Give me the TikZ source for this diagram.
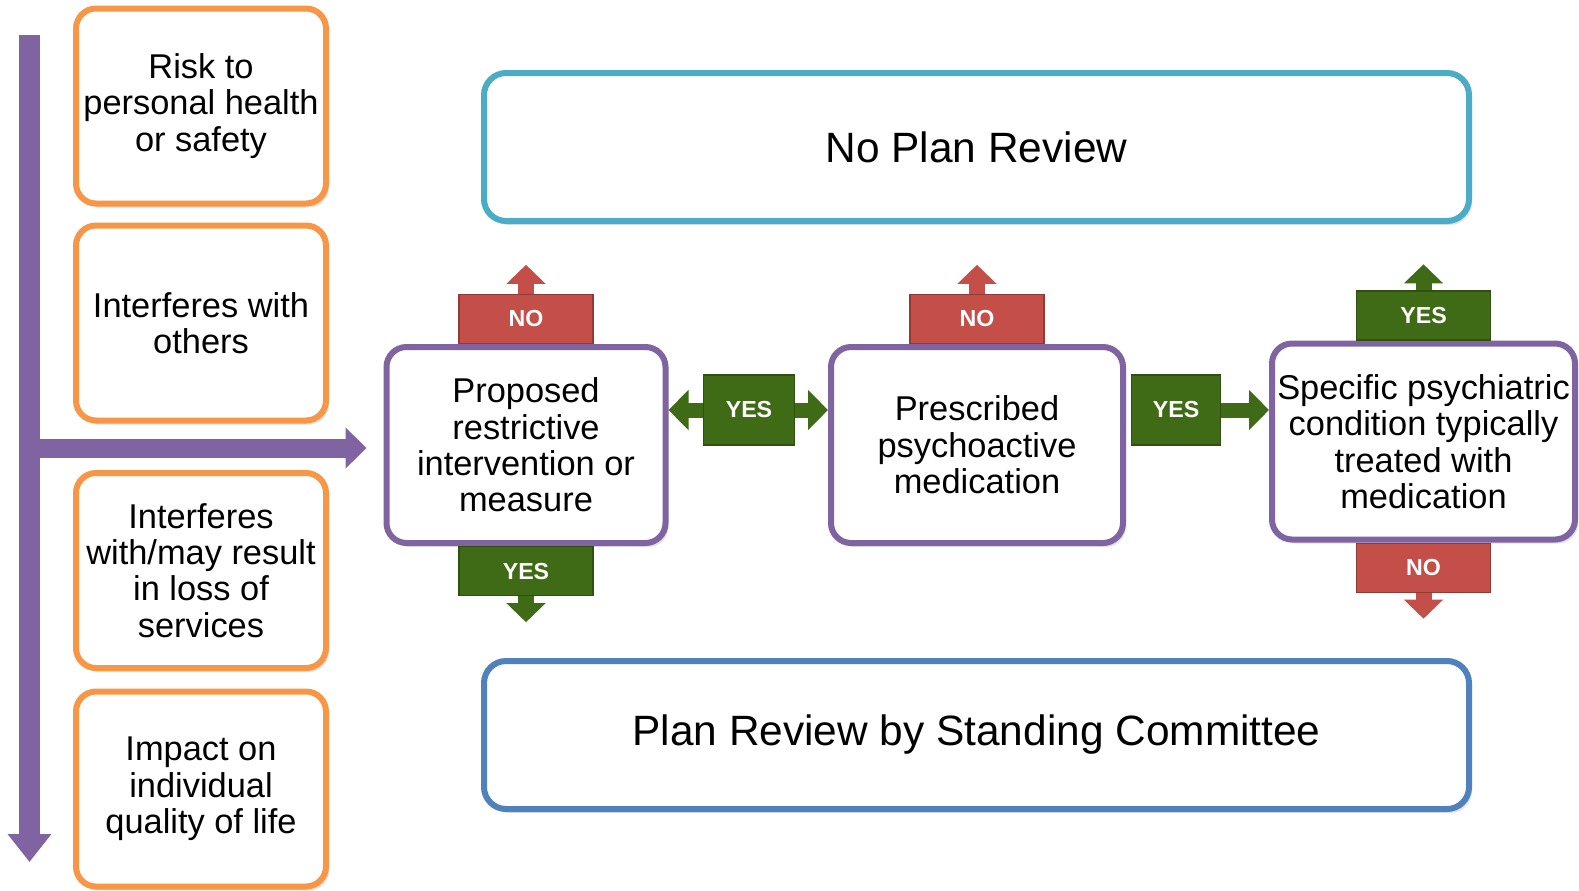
\documentclass[tikz,border=0pt]{standalone}
\usepackage{fontspec}
\setmainfont{Liberation Sans}
\usetikzlibrary{arrows.meta,positioning,shadows}
\definecolor{myorange}{RGB}{247,150,70}
\definecolor{mypurple}{RGB}{128,100,162}
\definecolor{mycyan}{RGB}{75,172,198}
\definecolor{myblue}{RGB}{79,129,189}
\definecolor{myred}{RGB}{196,78,72}
\definecolor{mygreen}{RGB}{63,106,22}

\tikzset{
    box/.style={draw, line width=3pt, rounded corners=10pt, fill=white, align=center, inner sep=0pt,
        font=\fontsize{17.2}{18.2}\selectfont,
        drop shadow={opacity=0.22, shadow xshift=1.5pt, shadow yshift=-2pt}},
    orangebox/.style={box, draw=myorange, minimum width=125pt, minimum height=97.5pt},
    purplebox/.style={box, draw=mypurple, minimum height=98pt},
    planbox/.style={box, rounded corners=11pt, minimum width=492.5pt, minimum height=74pt,
        font=\fontsize{21.2}{25}\selectfont},
    callout/.style={draw=#1!75!black, fill=#1, line width=0.6pt, text=white, inner sep=0pt,
        font=\bfseries\fontsize{11.6}{13}\selectfont, minimum width=67pt, minimum height=24.5pt},
    calloutarrow/.style={draw=#1, line width=8pt, -{Triangle[width=19pt, length=9.5pt]}},
    sidearrow/.style={draw=#1, line width=7.5pt, -{Triangle[width=19.5pt, length=10pt]}},
    flow/.style={draw=mypurple}
}

\begin{document}
\begin{tikzpicture}[x=0.5pt, y=-0.5pt]
    % Criteria column
    \begin{scope}
        % Purple arrow down the criteria and branch to the first question
        \coordinate (flowtop) at (29.5, 35);
        \coordinate (flowbottom) at (29.5, 862);
        \coordinate (branch) at (29.5, 448);
        \coordinate (branchend) at (366.5, 448);
        \draw[flow, line width=10.5pt, -{Triangle[width=21pt, length=14pt]}] (flowtop) -- (flowbottom);
        \draw[flow, line width=9.5pt, -{Triangle[width=20pt, length=10.5pt]}] (branch) -- (branchend);

        % Orange criteria boxes
        \node[orangebox] (risk) at (201, 106) {Risk to\\personal health\\or safety};
        \node[orangebox] (others) at (201, 323) {Interferes with\\others};
        \node[orangebox] (services) at (201, 570.5) {Interferes\\with/may result\\in loss of\\services};
        \node[orangebox] (quality) at (201, 789) {Impact on\\individual\\quality of life};
    \end{scope}

    % Outcome boxes
    \node[planbox, draw=mycyan] (noreview) at (976.5, 147) {No Plan Review};
    \node[planbox, draw=myblue] (review) at (976.5, 735) {Plan Review by Standing Committee};

    % Question boxes
    \node[purplebox, minimum width=139.5pt] (restrictive) at (526, 445) {Proposed\\restrictive\\intervention or\\measure};
    \node[purplebox, minimum width=146pt] (psychoactive) at (977, 445) {Prescribed\\psychoactive\\medication};
    \node[purplebox, minimum width=151.5pt] (condition) at (1423.5, 441.5) {Specific psychiatric\\condition typically\\treated with\\medication};

    % Answers above and below the questions
    \node[callout=myred, above=0pt of restrictive] (noA) {NO};
    \coordinate[above=14.5pt of noA] (noAend);
    \draw[calloutarrow=myred] (noA) -- (noAend);

    \node[callout=myred, above=0pt of psychoactive] (noB) {NO};
    \coordinate[above=14.5pt of noB] (noBend);
    \draw[calloutarrow=myred] (noB) -- (noBend);

    \node[callout=mygreen, above=0pt of condition] (yesC) {YES};
    \coordinate[above=13pt of yesC] (yesCend);
    \draw[calloutarrow=mygreen] (yesC) -- (yesCend);

    \node[callout=mygreen, below=0pt of restrictive] (yesA) {YES};
    \coordinate[below=13pt of yesA] (yesAend);
    \draw[calloutarrow=mygreen] (yesA) -- (yesAend);

    \node[callout=myred, below=0pt of condition] (noC) {NO};
    \coordinate[below=13pt of noC] (noCend);
    \draw[calloutarrow=myred] (noC) -- (noCend);

    % Answers between the questions
    \node[callout=mygreen, minimum width=45.5pt, minimum height=35pt] (yesAB) at (749, 410) {YES};
    \draw[sidearrow=mygreen] (yesAB) -- (restrictive.east |- yesAB);
    \draw[sidearrow=mygreen] (yesAB) -- (psychoactive.west |- yesAB);

    \node[callout=mygreen, minimum width=44.5pt, minimum height=35pt] (yesBC) at (1176, 410) {YES};
    \draw[sidearrow=mygreen] (yesBC) -- (condition.west |- yesBC);

    % Page frame
    \pgfresetboundingbox
    \useasboundingbox (0, 0) rectangle (1579, 890);
\end{tikzpicture}
\end{document}
